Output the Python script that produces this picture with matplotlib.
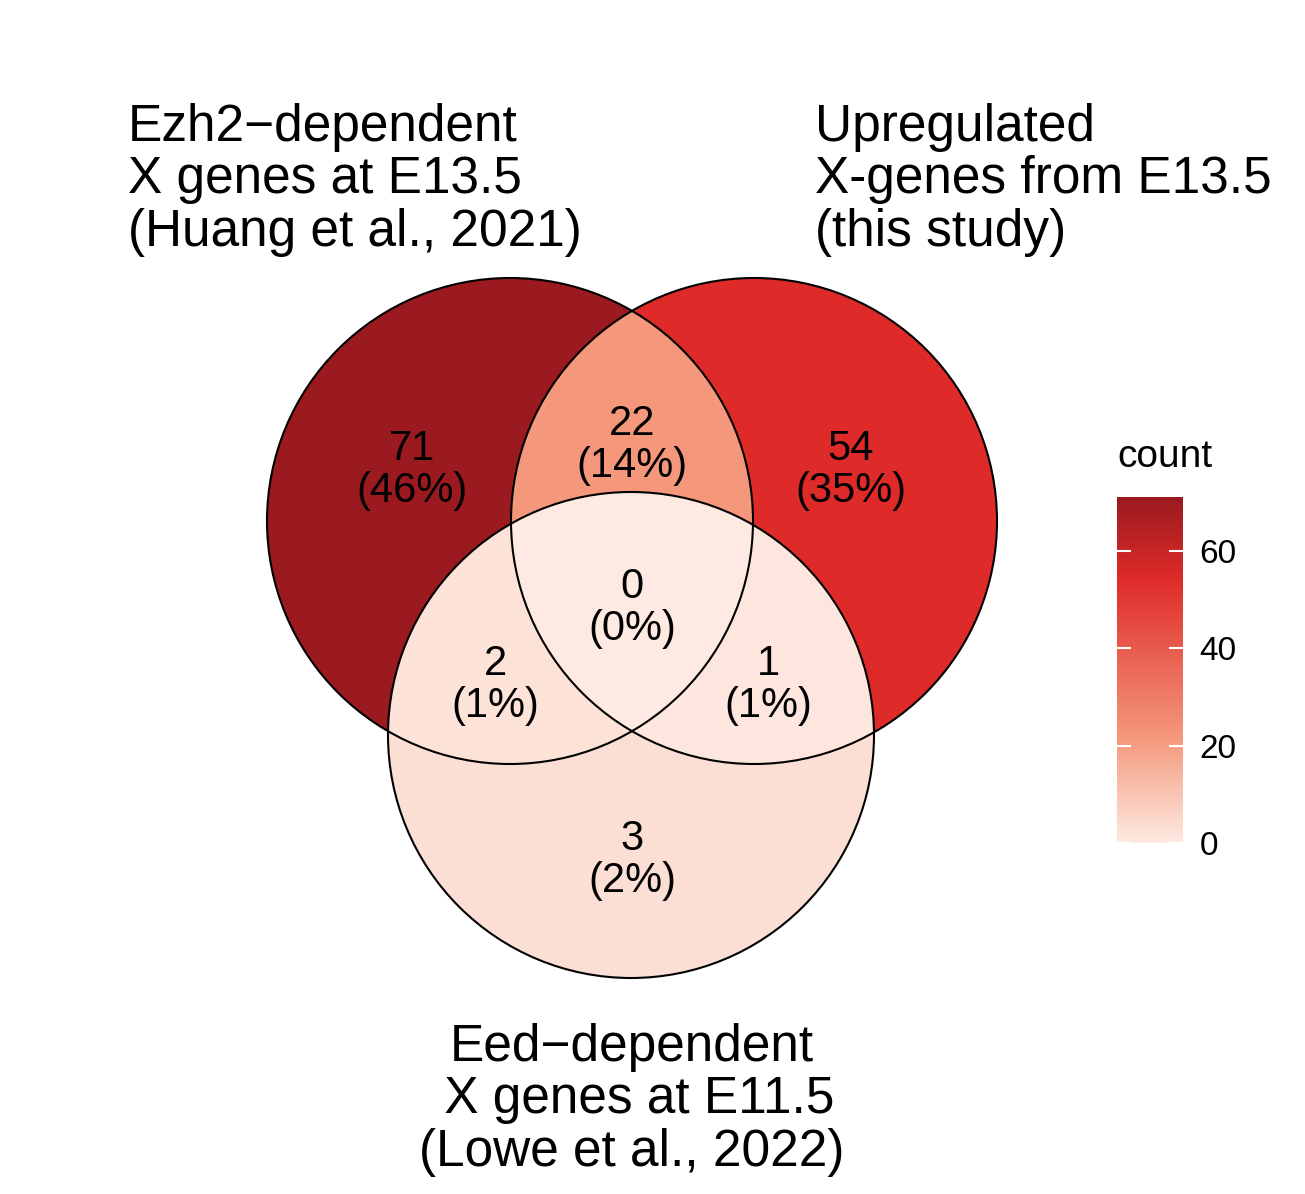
import numpy as np
import matplotlib
matplotlib.use("Agg")
import matplotlib.pyplot as plt
from matplotlib.colors import LinearSegmentedColormap, Normalize
from matplotlib.patches import Circle

plt.rcParams["font.family"] = "Liberation Sans"

set_labels = ["Ezh2\u2212dependent\nX genes at E13.5\n(Huang et al., 2021)",
              "Upregulated\nX-genes from E13.5\n(this study)",
              "Eed\u2212dependent\n X genes at E11.5\n(Lowe et al., 2022)"]
# region keys: membership (A,B,C)
region_keys = [(1,0,0),(0,1,0),(0,0,1),(1,1,0),(1,0,1),(0,1,1),(1,1,1)]
region_counts = [71, 54, 3, 22, 2, 1, 0]
region_label_pos = [(412,470),(851,470),(632,860),(632,445),(495,685),(768,685),(632,608)]
cbar_ticks = [0, 20, 40, 60]

W, H = 1305, 1194
fig = plt.figure(figsize=(W/100, H/100), dpi=100)
ax = fig.add_axes([0, 0, 1, 1])
ax.set_xlim(0, W); ax.set_ylim(H, 0); ax.axis("off")

centers = [(510, 521), (754, 521), (631, 735)]
r = 243

cmap = LinearSegmentedColormap.from_list("c", [(0, "#FEEAE2"), (22/71, "#F4977A"),
                                               (54/71, "#DF2C2A"), (1, "#9A1A1F")])
norm = Normalize(0, 71)

yy, xx = np.mgrid[0:H, 0:W] + 0.5
inside = [((xx-cx)**2 + (yy-cy)**2) <= r*r for cx, cy in centers]
vals = np.full((H, W), np.nan)
for key, cnt in zip(region_keys, region_counts):
    m = np.ones((H, W), bool)
    for i, k in enumerate(key):
        m &= inside[i] if k else ~inside[i]
    vals[m] = cnt
ax.imshow(np.ma.masked_invalid(vals), cmap=cmap, norm=norm, extent=(0, W, H, 0),
          interpolation="nearest", zorder=1)
for cx, cy in centers:
    ax.add_patch(Circle((cx, cy), r, fill=False, ec="black", lw=1.5, zorder=2))

total = sum(region_counts)
for (x, y), cnt in zip(region_label_pos, region_counts):
    ax.text(x, y, f"{cnt}\n({round(100*cnt/total)}%)", ha="center", va="center",
            fontsize=30, linespacing=1.05, zorder=3)

ax.text(128, 180, set_labels[0], ha="left", va="center", fontsize=37, linespacing=1.1)
ax.text(815, 180, set_labels[1], ha="left", va="center", fontsize=37, linespacing=1.1)
ax.text(632, 1100, set_labels[2], ha="center", va="center", fontsize=37, linespacing=1.1)

cax = fig.add_axes([1117/W, 1 - 843/H, 66/W, 346/H])
grad = np.linspace(0, 71, 256).reshape(-1, 1)
cax.imshow(grad, cmap=cmap, norm=norm, aspect="auto", origin="lower", extent=(0, 1, 0, 71))
cax.set_xlim(0, 1); cax.set_ylim(0, 71)
for t in cbar_ticks:
    cax.plot([0, 0.2], [t, t], color="white", lw=1.5)
    cax.plot([0.8, 1], [t, t], color="white", lw=1.5)
cax.set_xticks([])
cax.yaxis.tick_right()
cax.set_yticks(cbar_ticks)
cax.tick_params(axis="y", length=0, labelsize=24, pad=12)
for s in cax.spines.values():
    s.set_visible(False)
fig.text(1117/W, 1 - 457/H, "count", ha="left", va="center", fontsize=28)

fig.savefig("out.png", dpi=100)
